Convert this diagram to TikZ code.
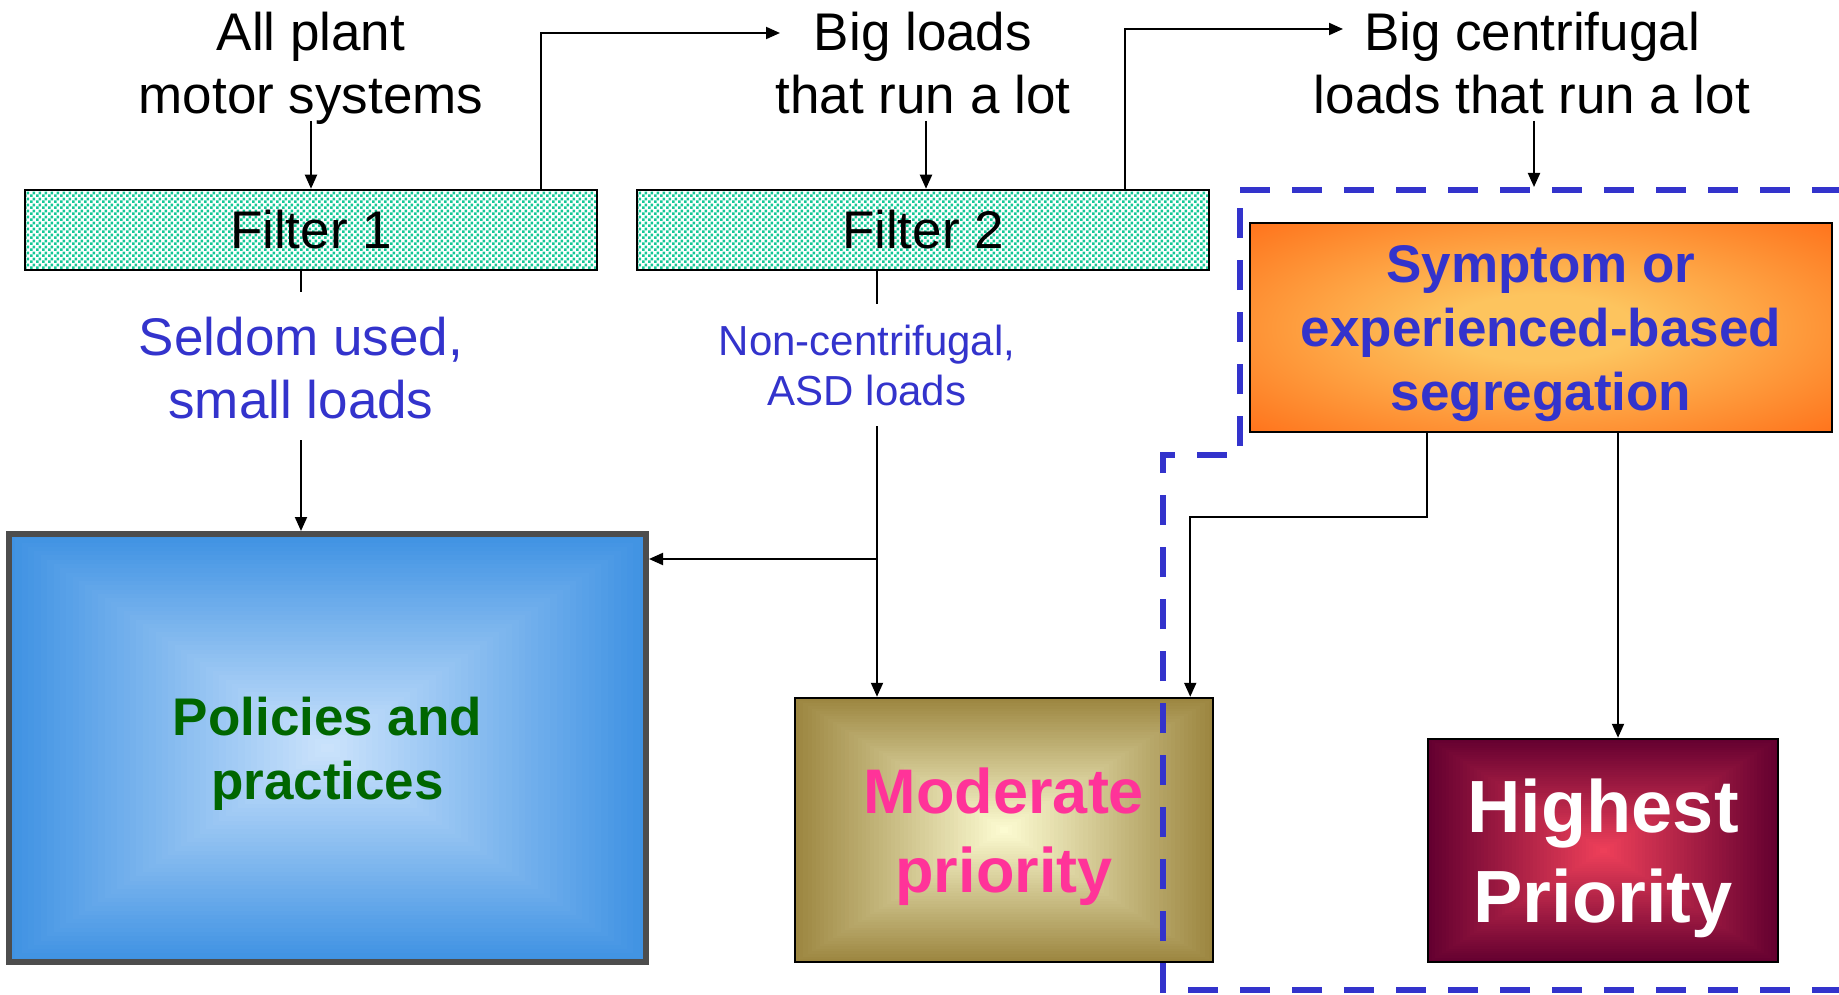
\documentclass[tikz,border=0pt]{standalone}
\usepackage{fontspec}
\setmainfont{Liberation Sans}
\usetikzlibrary{arrows.meta,calc,patterns.meta}
\definecolor{tblue}{HTML}{3333CC}
\definecolor{fteal}{HTML}{14C896}
\definecolor{polout}{HTML}{3F92E3}
\definecolor{polin}{HTML}{CDE4FC}
\definecolor{modout}{HTML}{9C8640}
\definecolor{modin}{HTML}{FEFDD4}
\definecolor{symin}{HTML}{FDC45E}
\definecolor{symout}{HTML}{FF6611}
\definecolor{hiout}{HTML}{640030}
\definecolor{hiin}{HTML}{F0405A}
\definecolor{pgreen}{HTML}{006600}
\definecolor{mpink}{HTML}{FF3399}
\definecolor{polgray}{HTML}{4D4D4D}
\pgfdeclareradialshading{symrad}{\pgfpoint{0bp}{0bp}}{color(0bp)=(symin); color(8bp)=(symin); color(40bp)=(symout); color(50bp)=(symout)}
\tikzdeclarepattern{
  name=tealdots,
  type=uncolored,
  bounding box={(0pt,0pt) and (6pt,6pt)},
  tile size={(6pt,6pt)},
  code={\fill (0pt,0pt) rectangle (3.1pt,3.1pt); \fill (3pt,3pt) rectangle (6.1pt,6.1pt);}
}
\tikzset{
  rg/.style 2 args={path picture={
    \foreach \i in {0,...,49}{
      \pgfmathsetmacro{\gfr}{1-\i/50}
      \pgfmathtruncatemacro{\gpc}{2*\i}
      \fill[#2!\gpc!#1] ($(path picture bounding box.center)!\gfr!(path picture bounding box.south west)$) rectangle ($(path picture bounding box.center)!\gfr!(path picture bounding box.north east)$);
    }}},
}
\begin{document}
\begin{tikzpicture}[x=1pt,y=-1pt,
  arr/.style={line width=2pt,-{Triangle[length=14pt,width=12pt]}},
  ln/.style={line width=2pt},
  filt/.style={draw=black,line width=2.5pt,pattern={tealdots},pattern color=fteal,minimum width=572pt,minimum height=80pt,inner sep=0pt,font=\fontsize{53}{63}\selectfont},
  lbl/.style={align=center,inner sep=0pt,text depth=0pt,font=\fontsize{53}{63}\selectfont},
  box/.style={draw=black,line width=2.5pt,inner sep=0pt,align=center,text depth=0pt},
  dashbox/.style={draw=tblue,line width=6pt,dash pattern=on 30pt off 22pt},
]
\useasboundingbox (0,0) rectangle (1839,995);
\node[lbl] (allp) at (311,63) {All plant\\motor systems};
\node[lbl] (bigl) at (923,63) {Big loads\\that run a lot};
\node[lbl] (bigc) at (1532,63) {Big centrifugal\\loads that run a lot};
\node[filt] (f1) at (311,230) {Filter 1};
\node[filt] (f2) at (923,230) {Filter 2};
\node[lbl,text=tblue] (seld) at (301,368) {Seldom used,\\small loads};
\node[lbl,text=tblue,font=\fontsize{42}{50}\selectfont] (nonc) at (867,365) {Non-centrifugal,\\ASD loads};
\node[box,draw=polgray,line width=6pt,minimum width=637pt,minimum height=428pt,rg={polout}{polin},text=pgreen,font=\bfseries\fontsize{53}{64}\selectfont] (pol) at (327.5,748) {Policies and\\practices};
\node[box,minimum width=418pt,minimum height=264pt,rg={modout}{modin},text=mpink,font=\bfseries\fontsize{63}{79}\selectfont] (mod) at (1004,830) {Moderate\\priority};
\node[box,minimum width=582pt,minimum height=209pt,shading=symrad,text=tblue,font=\bfseries\fontsize{53}{64}\selectfont] (sym) at (1541,327.5) {Symptom or\\experienced-based\\segregation};
\node[box,minimum width=350pt,minimum height=223pt,rg={hiout}{hiin},text=white,font=\bfseries\fontsize{74}{90}\selectfont] (hi) at (1603,850.5) {Highest\\Priority};
% top connectors
\coordinate (a1) at (311,121);
\draw[arr] (a1) -- (f1.north);
\coordinate (blin) at (780,33);
\draw[arr] ([xshift=230pt]f1.north) |- (blin);
\coordinate (a2) at (926,121);
\draw[arr] (a2) -- (a2 |- f2.north);
\coordinate (bcin) at (1343,29);
\draw[arr] ([xshift=202pt]f2.north) |- (bcin);
\coordinate (a3) at (1534,121);
\coordinate (dtop) at (1534,187);
\draw[arr] (a3) -- (dtop);
% seldom
\draw[ln] ([xshift=-10pt]f1.south) -- ++(0,21);
\coordinate (s1) at (301,440);
\draw[arr] (s1) -- (s1 |- pol.north);
% non-centrifugal
\draw[ln] ([xshift=-46pt]f2.south) -- ++(0,33);
\coordinate (n1) at (877,426);
\draw[arr] (n1) -- (n1 |- mod.north);
\coordinate (nb) at (877,559);
\draw[arr] (nb) -- (nb -| pol.east);
% symptom
\draw[arr] ([xshift=-114pt]sym.south) -- ++(0,84) -| ([xshift=-24pt]mod.north east);
\coordinate (h1) at ([xshift=77pt]sym.south);
\draw[arr] (h1) -- (h1 |- hi.north);
% dashed group
\draw[dashbox] (1240,190) -- (1843,190) -- (1843,990) -- (1163,990) -- (1163,455) -- (1240,455) -- cycle;
\end{tikzpicture}
\end{document}
